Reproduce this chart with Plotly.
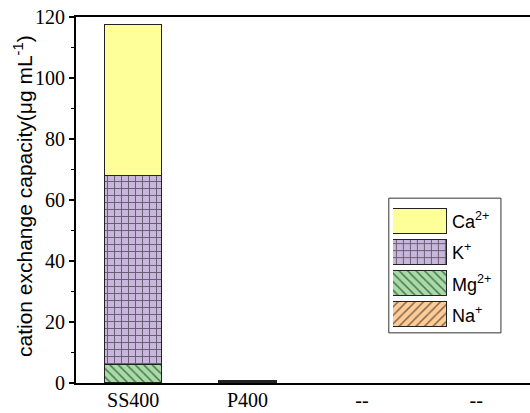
import plotly.graph_objects as go

# Samples and cation exchange capacity contributions (µg mL^-1)
samples = ["SS400", "P400", "--", "--"]
ions = ["Ca<sup>2+</sup>", "K<sup>+</sup>", "Mg<sup>2+</sup>", "Na<sup>+</sup>"]
na_vals = [0.2, 0.1, 0.0, 0.0]
mg_vals = [6.0, 0.15, 0.0, 0.0]
k_vals = [61.8, 0.25, 0.0, 0.0]
ca_vals = [49.5, 0.2, 0.0, 0.0]

x_pos = list(range(len(samples)))

styles = {
    "Na": dict(bg="#FFCC99", shape="/", size=6),
    "Mg": dict(bg="#A6DDA6", shape="\\", size=6),
    "K": dict(bg="#C8B6DC", shape="+", size=7),
    "Ca": dict(bg="#FFFF99", shape="", size=8),
}


def bar_marker(key):
    st = styles[key]
    return dict(
        color=st["bg"],
        line=dict(color="#222222", width=1),
        pattern=dict(shape=st["shape"], fgcolor="black", bgcolor=st["bg"],
                     size=st["size"], solidity=0.25),
    )


fig = go.Figure()

series = [("Na", na_vals), ("Mg", mg_vals), ("K", k_vals), ("Ca", ca_vals)]
for key, vals in series:
    fig.add_trace(go.Bar(
        x=x_pos, y=vals, width=0.5, name=key, showlegend=False,
        marker=bar_marker(key),
    ))

# Legend drawn as an inset of swatch bars
legend_keys = ["Ca", "K", "Mg", "Na"]
for i, key in enumerate(legend_keys):
    fig.add_trace(go.Bar(
        x=[1], y=[i], orientation="h", width=0.8, showlegend=False,
        xaxis="x2", yaxis="y2", hoverinfo="skip",
        marker=bar_marker(key),
    ))

row_y = [0.486 - (0.486 - 0.145) * (i + 0.5) / 4 for i in range(4)]
for label, yy in zip(ions, row_y):
    fig.add_annotation(
        x=0.824, y=yy, xref="paper", yref="paper", text=label,
        showarrow=False, xanchor="left", yanchor="middle",
        font=dict(family="Liberation Sans", size=18, color="black"),
    )

fig.add_shape(type="rect", xref="paper", yref="paper",
              x0=0.689, x1=0.936, y0=0.137, y1=0.505,
              line=dict(color="#333333", width=1), fillcolor="rgba(0,0,0,0)",
              layer="below")

# Y-axis title
fig.add_annotation(
    x=-0.118, y=0.512, xref="paper", yref="paper", textangle=-90,
    text="cation exchange capacity(μg mL<sup>-1</sup>)", showarrow=False,
    xanchor="center", yanchor="middle",
    font=dict(family="Liberation Sans", size=21, color="black"),
)

fig.update_layout(
    width=530, height=413,
    margin=dict(l=76, r=0, t=17, b=30, autoexpand=False),
    plot_bgcolor="white", paper_bgcolor="white",
    barmode="stack",
    xaxis=dict(
        tickvals=x_pos, ticktext=samples, range=[-0.5, 3.47],
        showline=True, linecolor="black", linewidth=2, mirror=True,
        ticks="", showgrid=False, zeroline=False, automargin=False,
        ticklabelstandoff=-2,
        tickfont=dict(family="Liberation Serif", size=20, color="black"),
    ),
    yaxis=dict(
        range=[0, 120], tickvals=[0, 20, 40, 60, 80, 100, 120],
        showline=True, linecolor="black", linewidth=2, automargin=False,
        ticks="outside", ticklen=5, tickwidth=1.5, tickcolor="black",
        minor=dict(tickvals=[10, 30, 50, 70, 90, 110], ticks="outside",
                   ticklen=3, tickwidth=1, tickcolor="black"),
        showgrid=False, zeroline=False,
        tickfont=dict(family="Liberation Serif", size=20, color="black"),
    ),
    xaxis2=dict(domain=[0.698, 0.817], range=[0, 1], anchor="y2",
                visible=False, fixedrange=True),
    yaxis2=dict(domain=[0.145, 0.486], range=[3.5, -0.5], anchor="x2",
                visible=False, fixedrange=True),
)

fig.write_html("out.html")
